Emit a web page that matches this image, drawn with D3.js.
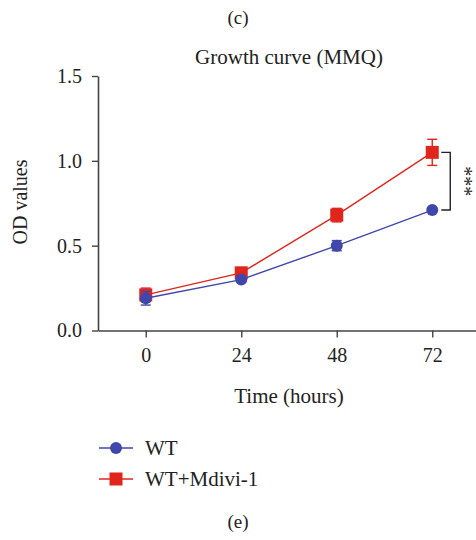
<!DOCTYPE html>
<html>
<head>
<meta charset="utf-8">
<script src="https://cdn.jsdelivr.net/npm/d3@7"></script>
<style>
  body { margin: 0; background: #fff; }
  svg text { font-family: 'Liberation Serif', 'DejaVu Serif', serif; fill: #222; }
</style>
</head>
<body>
<div id="app"></div>
<script>
// Data
const hours = [0, 24, 48, 72];
const wtMean = [0.19, 0.30, 0.50, 0.71];
const wtErr = [0.04, 0.01, 0.03, 0.01];
const mdiviMean = [0.21, 0.34, 0.68, 1.05];
const mdiviErr = [0.04, 0.02, 0.04, 0.077];
const yTicks = [0, 0.5, 1.0, 1.5];
const seriesNames = ['WT', 'WT+Mdivi-1'];

const W = 476, H = 540;

const svg = d3.select('#app').append('svg').attr('width', W).attr('height', H);

const x = d3.scaleLinear().domain([-12, 84]).range([98, 480]);
const y = d3.scaleLinear().domain([0, 1.5]).range([330.5, 76]);

const blue = '#3f48aa';
const red = '#e0261c';

// axes
const yAxis = svg.append('g').attr('transform', `translate(${x(-12)},0)`)
  .call(d3.axisLeft(y).tickValues(yTicks).tickFormat(d3.format('.1f')).tickSize(6).tickSizeOuter(0));
const xAxis = svg.append('g').attr('transform', `translate(0,${y(0)})`)
  .call(d3.axisBottom(x).tickValues(hours).tickSize(7).tickSizeOuter(0));
[xAxis, yAxis].forEach(a => {
  a.select('.domain').attr('stroke', '#444').attr('stroke-width', 1.6);
  a.selectAll('.tick line').attr('stroke', '#444').attr('stroke-width', 1.4);
  a.selectAll('text').style('font-size', '20px').attr('fill', '#222');
});
yAxis.selectAll('text').attr('x', -16);
xAxis.selectAll('text').attr('y', 17);

// series
const series = [
  { name: seriesNames[0], mean: wtMean, err: wtErr, color: blue, shape: 'circle' },
  { name: seriesNames[1], mean: mdiviMean, err: mdiviErr, color: red, shape: 'square' }
];
const line = d3.line().x(d => x(d[0])).y(d => y(d[1]));

function drawMarker(g, shape, color, cx, cy) {
  if (shape === 'circle') {
    g.append('circle').attr('cx', cx).attr('cy', cy).attr('r', 6).attr('fill', color);
  } else {
    g.append('rect').attr('x', cx - 6.5).attr('y', cy - 6.5).attr('width', 13).attr('height', 13).attr('fill', color);
  }
}

// red first so blue markers sit on top at low values
[series[1], series[0]].forEach(s => {
  const g = svg.append('g');
  const pts = hours.map((h, i) => [h, s.mean[i], s.err[i]]);
  g.append('path').datum(pts).attr('d', line).attr('fill', 'none')
    .attr('stroke', s.color).attr('stroke-width', 1.4);
  pts.forEach(p => {
    const cx = x(p[0]);
    g.append('line').attr('x1', cx).attr('x2', cx).attr('y1', y(p[1] - p[2])).attr('y2', y(p[1] + p[2]))
      .attr('stroke', s.color).attr('stroke-width', 1.4);
    [p[1] - p[2], p[1] + p[2]].forEach(v => {
      g.append('line').attr('x1', cx - 5).attr('x2', cx + 5).attr('y1', y(v)).attr('y2', y(v))
        .attr('stroke', s.color).attr('stroke-width', 1.4);
    });
    drawMarker(g, s.shape, s.color, cx, y(p[1]));
  });
});

// significance bracket at 72 h
const bx = x(72) + 18;
svg.append('path')
  .attr('d', `M${x(72) + 9},${y(mdiviMean[3])}H${bx}V${y(wtMean[3])}H${x(72) + 9}`)
  .attr('fill', 'none').attr('stroke', '#222').attr('stroke-width', 1.4);
svg.append('text')
  .attr('transform', `translate(${bx + 8},${(y(mdiviMean[3]) + y(wtMean[3])) / 2}) rotate(90)`)
  .attr('text-anchor', 'middle').style('font-size', '20px').text('***');

// titles
svg.append('text').attr('x', 238).attr('y', 24).attr('text-anchor', 'middle').style('font-size', '19px').text('(c)');
svg.append('text').attr('x', 289).attr('y', 64).attr('text-anchor', 'middle').style('font-size', '21px').text('Growth curve (MMQ)');
svg.append('text').attr('x', 289).attr('y', 403).attr('text-anchor', 'middle').style('font-size', '21px').text('Time (hours)');
svg.append('text').attr('transform', `translate(27,202) rotate(-90)`)
  .attr('text-anchor', 'middle').style('font-size', '20px').text('OD values');

// legend
series.forEach((s, i) => {
  const ly = 448 + i * 31;
  const g = svg.append('g');
  g.append('line').attr('x1', 99).attr('x2', 133).attr('y1', ly).attr('y2', ly)
    .attr('stroke', s.color).attr('stroke-width', 1.5);
  drawMarker(g, s.shape, s.color, 116, ly);
  g.append('text').attr('x', 145).attr('y', ly + 7).style('font-size', '21px').text(s.name);
});

svg.append('text').attr('x', 238).attr('y', 528).attr('text-anchor', 'middle').style('font-size', '19px').text('(e)');
</script>
</body>
</html>
